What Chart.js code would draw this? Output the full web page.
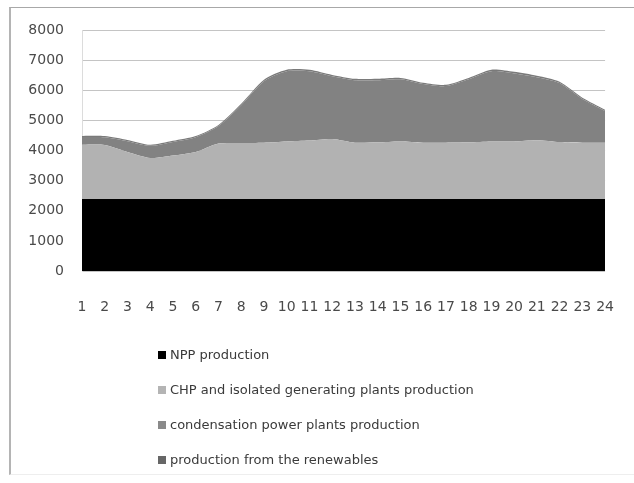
<!DOCTYPE html>
<html>
<head>
<meta charset="utf-8">
<script src="https://cdn.jsdelivr.net/npm/chart.js@4/dist/chart.umd.min.js"></script>
<style>
  html, body { margin: 0; background: #fff; overflow: hidden; width: 634px; height: 483px; }
  #frame {
    position: absolute; left: 9px; top: 7px; width: 623px; height: 466px;
    border-left: 2px solid #b4b4b4; border-top: 1px solid #a8a8a8; border-bottom: 1px solid #eee;
  }
  #wrap { position: absolute; left: 0; top: 0; width: 634px; height: 483px; }
  #legend {
    position: absolute; left: 158px; top: 346px;
    font-family: "DejaVu Sans", sans-serif; font-size: 13px; color: #3a3a3a;
  }
  #legend div { height: 35px; line-height: 18px; white-space: nowrap; }
  #legend span { display: inline-block; width: 8px; height: 8px; margin-right: 4px; }
</style>
</head>
<body>
<div id="frame"></div>
<div id="wrap"><canvas id="c" width="634" height="483"></canvas></div>
<div id="legend"></div>
<script>
const hours = ['1','2','3','4','5','6','7','8','9','10','11','12','13','14','15','16','17','18','19','20','21','22','23','24'];

const npp = [2390,2390,2390,2390,2390,2390,2390,2390,2390,2390,2390,2390,2390,2390,2390,2390,2390,2390,2390,2390,2390,2390,2390,2390];
const chp = [1800,1790,1560,1360,1440,1560,1840,1860,1870,1910,1940,1990,1870,1880,1910,1870,1870,1880,1910,1910,1950,1890,1870,1870];
const condensation = [255,260,360,405,455,490,580,1255,2040,2330,2300,2085,2075,2065,2065,1950,1880,2095,2330,2260,2095,1960,1450,1050];
const renewables = [40,40,40,35,35,40,40,45,50,50,50,45,45,45,45,40,40,45,50,50,45,40,40,40];

const seriesNames = ['NPP production', 'CHP and isolated generating plants production', 'condensation power plants production', 'production from the renewables'];
const fills = ['#000000', '#b2b2b2', '#828282', '#7a7a7a'];
const markers = ['#000000', '#b4b4b4', '#8a8a8a', '#666666'];

const values = [npp, chp, condensation, renewables];
const datasets = values.map((v, i) => ({
  label: seriesNames[i],
  data: v,
  backgroundColor: fills[i],
  borderColor: fills[i],
  borderWidth: 0,
  pointRadius: 0,
  tension: 0.25,
  fill: i === 0 ? 'origin' : '-1'
}));

const font = { family: 'DejaVu Sans', size: 14 };

new Chart(document.getElementById('c').getContext('2d'), {
  type: 'line',
  data: { labels: hours, datasets: datasets },
  options: {
    responsive: false,
    animation: false,
    layout: { padding: { left: 0, top: 30, right: 24, bottom: 162 } },
    plugins: { legend: { display: false }, tooltip: { enabled: false } },
    scales: {
      x: {
        offset: false,
        grid: { display: false },
        border: { display: false },
        ticks: { font: font, color: '#4a4a4a', padding: 20, maxRotation: 0, autoSkip: false },
        afterFit: (s) => { s.height = 50; }
      },
      y: {
        stacked: true,
        min: 0, max: 8000,
        ticks: { stepSize: 1000, font: font, color: '#4a4a4a', padding: 18, callback: (v) => String(v) },
        grid: { color: '#c4c4c4', drawTicks: false },
        border: { display: true, color: '#dcdcdc' },
        afterFit: (s) => { s.width = 82; }
      }
    }
  }
});

const legend = document.getElementById('legend');
seriesNames.forEach((name, i) => {
  const row = document.createElement('div');
  const box = document.createElement('span');
  box.style.background = markers[i];
  row.appendChild(box);
  row.appendChild(document.createTextNode(name));
  legend.appendChild(row);
});
</script>
</body>
</html>
